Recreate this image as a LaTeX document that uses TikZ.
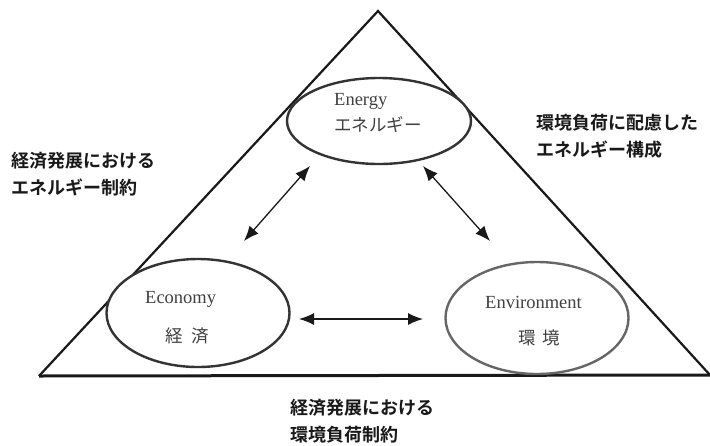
\documentclass[tikz,border=0pt]{standalone}
\usepackage{fontspec}
\setmainfont{Liberation Serif}
\newfontfamily\cjk{Noto Sans CJK JP}
\newfontfamily\cjkb{Noto Sans CJK JP Bold}
\usetikzlibrary{shapes.geometric,arrows.meta}
\tikzset{
  circ/.style={draw, ellipse, line width=2.4pt, inner sep=0pt},
  intext/.style={text=black!75, font=\fontsize{18.5}{20}\selectfont, inner sep=0pt, anchor=west},
  incjk/.style={text=black!75, font=\cjk\fontsize{17.5}{20}\selectfont, inner sep=0pt, anchor=west},
  outlabel/.style={font=\cjkb\fontsize{18}{27}\selectfont, align=left, inner sep=0pt, anchor=west, text=black!90},
  dbl/.style={{Latex[length=15pt,width=12pt]}-{Latex[length=15pt,width=12pt]}, line width=1.3pt, black!90},
  tri/.style={line width=2.2pt, black!90, line join=miter}
}
\begin{document}
\begin{tikzpicture}[x=1pt,y=-1pt]
\useasboundingbox (0,0) rectangle (710,445);
% triangle
\coordinate (top) at (378,11);
\coordinate (bl) at (39,376);
\coordinate (br) at (710,375);
\draw[tri] (bl) -- (top) -- (br);
\draw[line width=3pt, black!90] (bl) -- (br);
% ellipses
\node[circ, draw=black!80, fill=white, minimum width=184pt, minimum height=86pt] (en) at (379,121) {};
\node[circ, draw=black!80, fill=white, minimum width=183pt, minimum height=108pt] (ec) at (198,313) {};
\node[circ, draw=black!60, fill=white, minimum width=183pt, minimum height=112pt] (ev) at (537,318) {};
% inner texts
\node[intext] (t1) at (334,101) {Energy};
\node[incjk] (t2) at (334,125) {エネルギー};
\node[intext] (t3) at (145,299) {Economy};
\node[incjk] (t4) at (165,336) {経\hspace{9pt}済};
\node[intext] (t5) at (485,302) {Environment};
\node[incjk] (t6) at (518,338) {環\hspace{7pt}境};
% arrows
\coordinate (a1) at (310,166);
\coordinate (a2) at (244,241);
\coordinate (b1) at (423,166);
\coordinate (b2) at (490,241);
\coordinate (c1) at (299,319);
\coordinate (c2) at (423,319);
\draw[dbl] (a1) -- (a2);
\draw[dbl] (b1) -- (b2);
\draw[dbl] (c1) -- (c2);
% outer labels
\node[outlabel] (l1) at (11,174) {経済発展における\\エネルギー制約};
\node[outlabel] (l2) at (536,136) {環境負荷に配慮した\\エネルギー構成};
\node[outlabel] (l3) at (290,421) {経済発展における\\環境負荷制約};
\end{tikzpicture}
\end{document}
